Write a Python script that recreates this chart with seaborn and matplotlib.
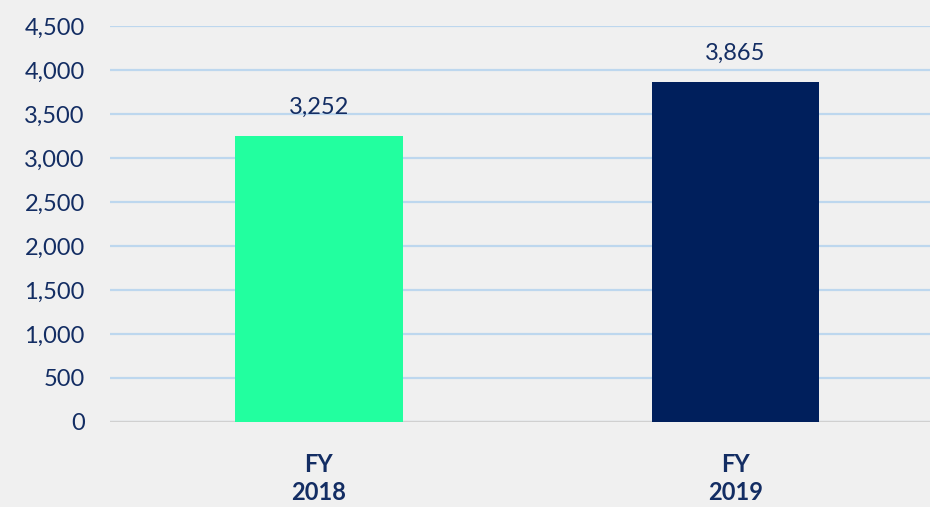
import seaborn as sns
import matplotlib.pyplot as plt
import pandas as pd

years = ['FY\n2018', 'FY\n2019']
totals = [3252, 3865]
bar_colors = ['#22ff9f', '#001f5c']

df = pd.DataFrame({'year': years, 'total': totals})

sns.set_style("white")
plt.rcParams['font.family'] = ['Lato', 'DejaVu Sans']

text_color = '#132d63'
fig = plt.figure(figsize=(9.3, 5.07), dpi=100)
fig.patch.set_facecolor('#f0f0f0')
ax = fig.add_axes([0.118, 0.1677, 0.882, 0.781])
ax.set_facecolor('#f0f0f0')

sns.barplot(data=df, x='year', y='total', hue='year', palette=bar_colors,
            saturation=1, width=0.403, linewidth=0, edgecolor='none',
            legend=False, ax=ax, zorder=3)

# value labels above the bars
for i, v in enumerate(totals):
    ax.annotate(f'{v:,}', (i, v), xytext=(0, 13), textcoords='offset points',
                ha='center', va='bottom', fontsize=17, color=text_color)

ax.set_ylim(0, 4500)
ax.set_xlim(-0.502, 1.467)
ax.set_yticks(range(0, 4501, 500))
ax.set_yticklabels([f'{t:,}' for t in range(0, 4501, 500)])
ax.yaxis.grid(True, color='#bdd7ee', linewidth=1.6, zorder=0)
ax.axhline(0, color='#d0d0d0', linewidth=1.6, zorder=1)

for s in ax.spines.values():
    s.set_visible(False)

ax.tick_params(axis='y', length=0, pad=18, labelsize=17, labelcolor=text_color)
ax.tick_params(axis='x', length=0, pad=22, labelsize=17, labelcolor=text_color)
for lbl in ax.get_xticklabels():
    lbl.set_fontweight('bold')
    lbl.set_linespacing(1.3)

ax.set_xlabel('')
ax.set_ylabel('')

fig.savefig('out.png', dpi=100, facecolor=fig.get_facecolor())
